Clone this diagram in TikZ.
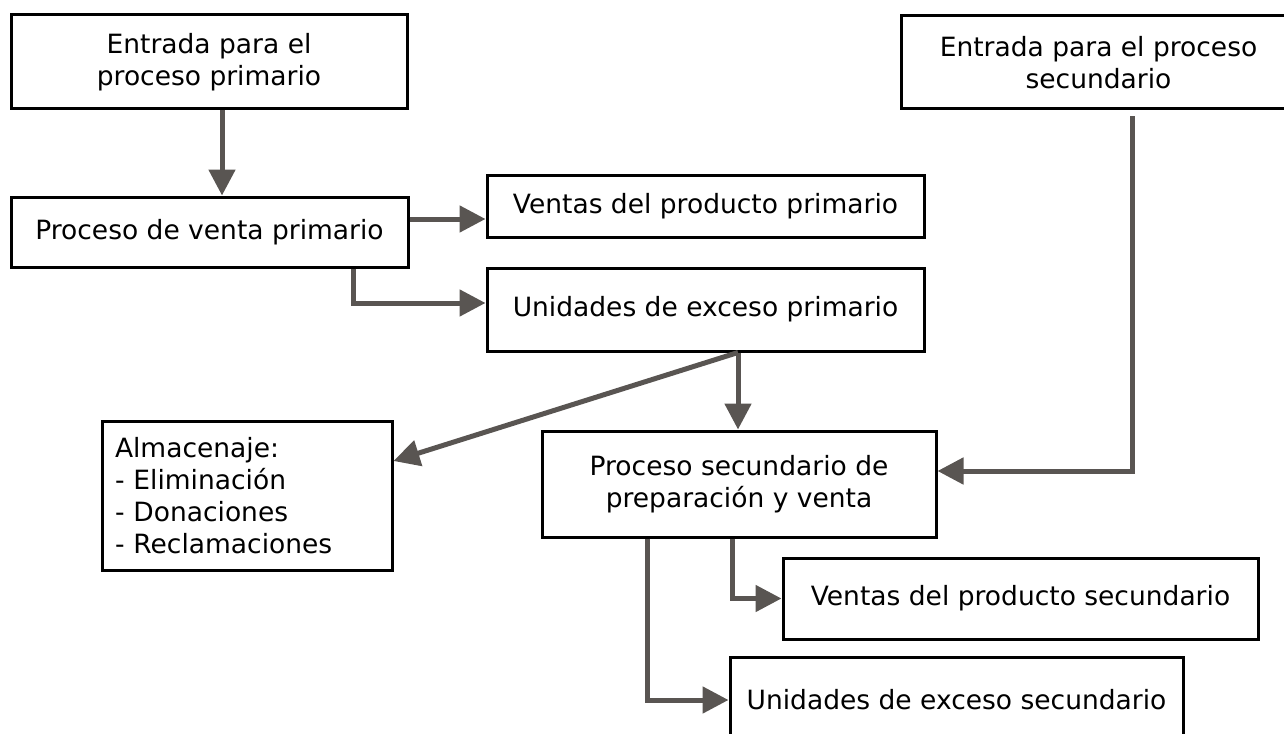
\documentclass[tikz,border=0pt]{standalone}
\usepackage{fontspec}
\setmainfont{DejaVu Sans}
\usetikzlibrary{arrows.meta}
\definecolor{arrowgray}{RGB}{89,85,82}

\begin{document}
\begin{tikzpicture}[x=1pt,y=-1pt,
        box/.style={draw,line width=3pt,rectangle,align=center,inner sep=0pt,
                font=\fontsize{26.5}{32}\selectfont},
        flow/.style={draw=arrowgray,line width=5pt,-{Triangle[length=26pt,width=26pt]}}]
    \useasboundingbox (0,0) rectangle (1284,733);

    % primary branch
    \node[box,minimum width=396pt,minimum height=94pt] (entprim) at (209,62) {Entrada para el\\proceso primario};
    \node[box,minimum width=397pt,minimum height=70pt] (ventprim) at (209.5,232) {Proceso de venta primario};
    \node[box,minimum width=437pt,minimum height=62pt] (prodprim) at (705.5,206) {Ventas del producto primario};
    \node[box,minimum width=437pt,minimum height=83pt] (excprim) at (705.5,309.5) {Unidades de exceso primario};
    \node[box,minimum width=290pt,minimum height=149pt,text width=264pt,align=left] (almac) at (247,495.5)
        {Almacenaje:\\- Eliminación\\- Donaciones\\- Reclamaciones};

    % secondary branch
    \node[box,minimum width=395pt,minimum height=93pt] (entsec) at (1098.5,62.5) {Entrada para el proceso\\secundario};
    \node[box,minimum width=394pt,minimum height=106pt] (procsec) at (739,484) {Proceso secundario de\\preparación y venta};
    \node[box,minimum width=475pt,minimum height=81pt] (prodsec) at (1020.5,598.5) {Ventas del producto secundario};
    \node[box,minimum width=453pt,minimum height=86pt] (excsec) at (956.5,700) {Unidades de exceso secundario};

    \coordinate (split) at ([xshift=32.5pt]excprim.south);

    \draw[flow] ([xshift=13pt]entprim.south) -- ([xshift=13pt]entprim.south |- ventprim.north);
    \draw[flow] ([yshift=13pt]ventprim.east) -- ([yshift=13pt]ventprim.east -| prodprim.west);
    \draw[flow] ([xshift=143.5pt]ventprim.south) |- ([yshift=6.5pt]excprim.west);
    \draw[flow] (split) -- (split |- procsec.north);
    \draw[flow] (split) -- ([yshift=34.5pt]almac.east);
    \draw[flow] ([xshift=33.5pt,yshift=-6pt]entsec.south) |- ([yshift=13pt]procsec.east);
    \draw[flow] ([xshift=-7pt]procsec.south) |- (prodsec.west);
    \draw[flow] ([xshift=-92pt]procsec.south) |- (excsec.west);
\end{tikzpicture}
\end{document}
